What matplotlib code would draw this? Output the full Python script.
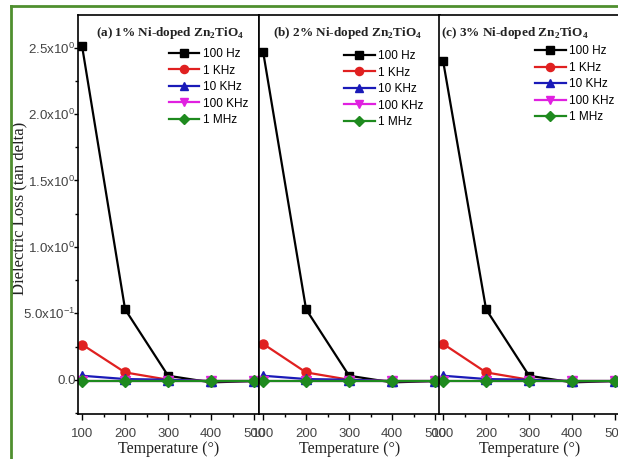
import matplotlib
matplotlib.use("Agg")
import matplotlib.pyplot as plt
from matplotlib.lines import Line2D
from matplotlib.ticker import MultipleLocator

plt.rcParams['mathtext.fontset'] = 'custom'
plt.rcParams['mathtext.rm'] = 'Liberation Sans'
plt.rcParams['mathtext.bf'] = 'Liberation Serif:bold'
plt.rcParams['font.family'] = ['Liberation Sans', 'DejaVu Sans']

temperature = [100, 200, 300, 400, 500]
series_labels = ['100 Hz', '1 KHz', '10 KHz', '100 KHz', '1 MHz']
panel_titles = [r'(a) 1% Ni-doped Zn$_{\mathbf{2}}$TiO$_{\mathbf{4}}$',
                r'(b) 2% Ni-doped Zn$_{\mathbf{2}}$TiO$_{\mathbf{4}}$',
                r'(c) 3% Ni-doped Zn$_{\mathbf{2}}$TiO$_{\mathbf{4}}$']

# panel (a)
a_100Hz = [2.51, 0.53, 0.03, -0.02, -0.01]
a_1KHz = [0.265, 0.055, 0.0, -0.01, -0.01]
a_10KHz = [0.03, 0.005, 0.0, -0.01, -0.01]
a_100KHz = [-0.01, -0.01, -0.01, -0.01, -0.01]
a_1MHz = [-0.012, -0.012, -0.012, -0.012, -0.012]
# panel (b)
b_100Hz = [2.47, 0.53, 0.03, -0.02, -0.01]
b_1KHz = [0.27, 0.055, 0.0, -0.01, -0.01]
b_10KHz = [0.03, 0.005, 0.0, -0.01, -0.01]
b_100KHz = [-0.01, -0.01, -0.01, -0.01, -0.01]
b_1MHz = [-0.012, -0.012, -0.012, -0.012, -0.012]
# panel (c)
c_100Hz = [2.40, 0.53, 0.03, -0.02, -0.01]
c_1KHz = [0.27, 0.055, 0.0, -0.01, -0.01]
c_10KHz = [0.03, 0.005, 0.0, -0.01, -0.01]
c_100KHz = [-0.01, -0.01, -0.01, -0.01, -0.01]
c_1MHz = [-0.012, -0.012, -0.012, -0.012, -0.012]

panels = [
    [a_100Hz, a_1KHz, a_10KHz, a_100KHz, a_1MHz],
    [b_100Hz, b_1KHz, b_10KHz, b_100KHz, b_1MHz],
    [c_100Hz, c_1KHz, c_10KHz, c_100KHz, c_1MHz],
]

ytick_values = [0.0, 0.5, 1.0, 1.5, 2.0, 2.5]
ytick_labels = ['0.0', r'5.0x10$^{-1}$', r'1.0x10$^{0}$', r'1.5x10$^{0}$',
                r'2.0x10$^{0}$', r'2.5x10$^{0}$']
xtick_values = [100, 200, 300, 400, 500]

colors = ['#000000', '#e02020', '#1a1ab8', '#e020e0', '#1e8a1e']
markers = ['s', 'o', '^', 'v', 'D']
msizes = [6, 6.5, 6.5, 6.5, 6]

W, H = 618, 459
fig = plt.figure(figsize=(W / 100, H / 100), dpi=100)

lefts = [78, 259, 439]
aw = 181
bottom, top = 414, 15
title_x = [0.51, 0.49, 0.42]
leg_anchor = [(0.50, 0.917), (0.47, 0.912), (0.53, 0.924)]

for i, data in enumerate(panels):
    ax = fig.add_axes([lefts[i] / W, 1 - bottom / H, aw / W, (bottom - top) / H])
    for j, ys in enumerate(data):
        ax.plot(temperature, ys, color=colors[j], marker=markers[j],
                markersize=msizes[j], linewidth=1.6, label=series_labels[j])
    ax.set_xlim(90.5, 511.5)
    ax.set_ylim(-0.258, 2.745)
    ax.set_xticks(xtick_values)
    ax.xaxis.set_minor_locator(MultipleLocator(50))
    ax.tick_params(axis='x', which='major', direction='out', length=4, width=1,
                   labelsize=9.5, labelcolor='#444444', pad=6)
    ax.tick_params(axis='x', which='minor', direction='out', length=2.5, width=1)
    if i == 0:
        ax.set_yticks(ytick_values)
        ax.set_yticklabels(ytick_labels)
        ax.yaxis.set_minor_locator(MultipleLocator(0.25))
        ax.tick_params(axis='y', which='major', direction='out', length=3, width=1,
                       labelsize=9.6, labelcolor='#444444', pad=-1.3)
        ax.tick_params(axis='y', which='minor', direction='out', length=2.5, width=1)
        ax.set_ylabel('Dielectric Loss (tan delta)', family='Liberation Serif',
                      fontsize=12, color='#222222')
        ax.yaxis.set_label_coords(-0.282, 0.515)
    else:
        ax.set_yticks([])
    for s in ax.spines.values():
        s.set_linewidth(1.2)
    ax.set_xlabel('Temperature (°)', family='Liberation Serif', fontsize=11.5,
                  color='#222222', labelpad=1)
    ax.text(title_x[i], 0.955, panel_titles[i], transform=ax.transAxes,
            ha='center', va='center', family='Liberation Serif',
            fontweight='bold', fontsize=9.5, color='#222222')
    ax.legend(loc='upper left', bbox_to_anchor=leg_anchor[i], frameon=False,
              borderpad=0, borderaxespad=0, handlelength=2.6, handletextpad=0.3,
              labelspacing=0.38, fontsize=8.5, markerscale=0.9)

# green frame
fig.add_artist(Line2D([11 / W, 11 / W], [0, 1 - 6 / H], color='#4f8f2f',
                      linewidth=2, transform=fig.transFigure))
fig.add_artist(Line2D([11 / W, 1], [1 - 6 / H, 1 - 6 / H], color='#4f8f2f',
                      linewidth=2, transform=fig.transFigure))

fig.savefig('out.png', dpi=100)
